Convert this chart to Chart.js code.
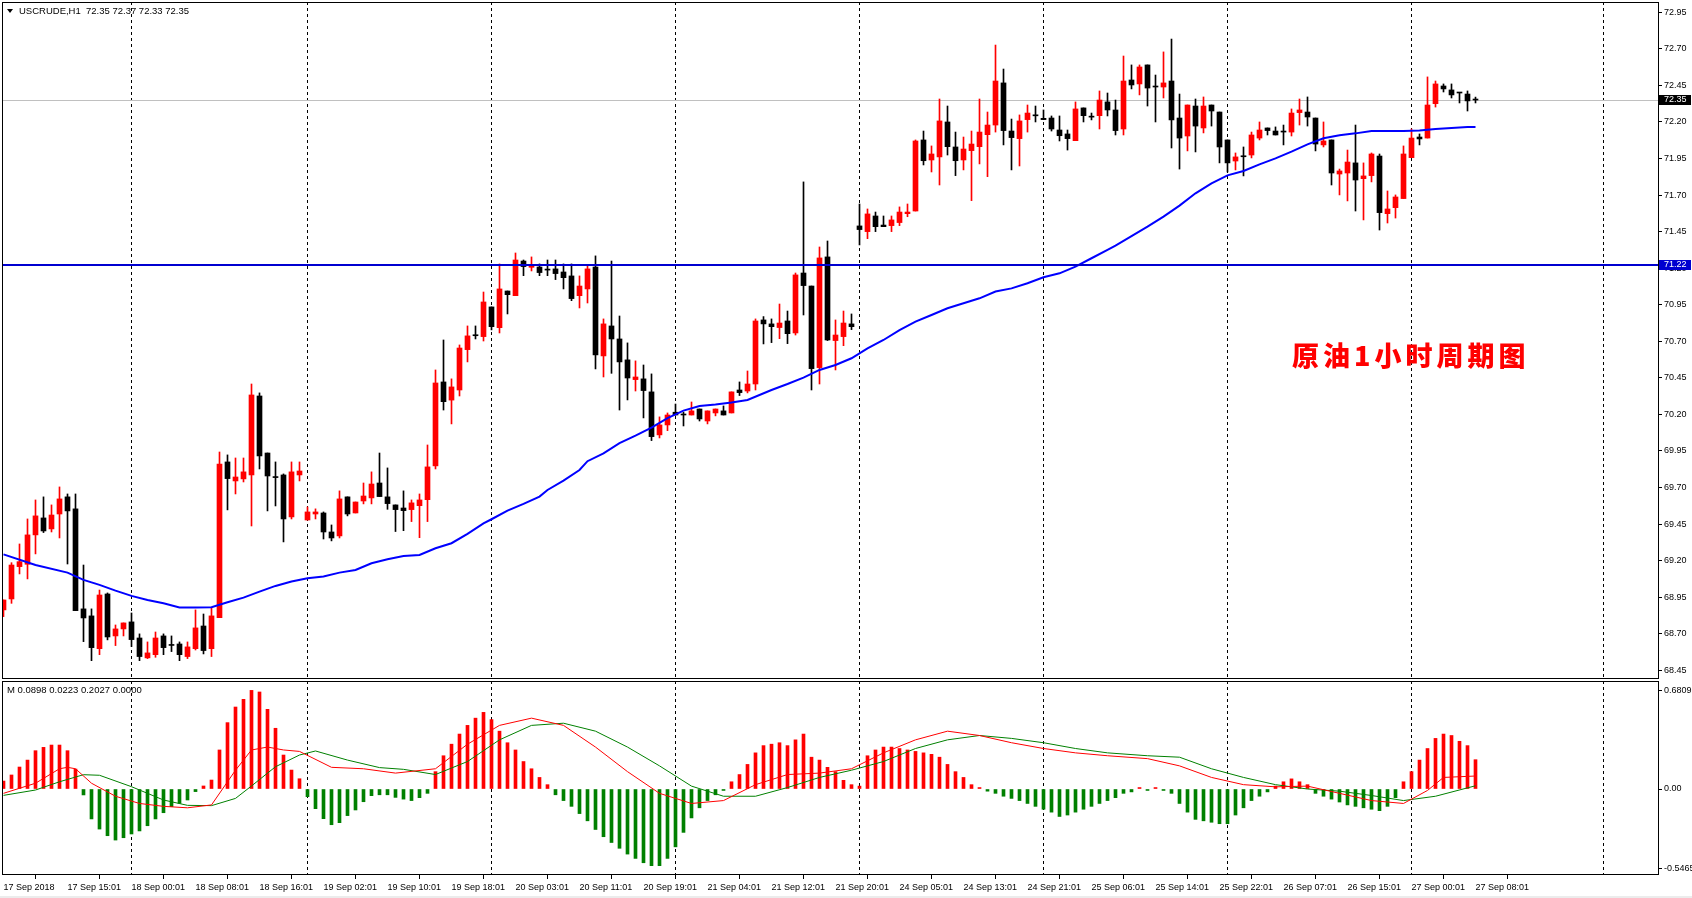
<!DOCTYPE html>
<html><head><meta charset="utf-8">
<script src="https://cdn.jsdelivr.net/npm/chart.js@4.4.0/dist/chart.umd.min.js"></script>
<style>
html,body{margin:0;padding:0;background:#fff;width:1692px;height:898px;overflow:hidden;}
#wrap{position:relative;width:1692px;height:898px;}
#c1{position:absolute;left:0;top:0;}
#c2{position:absolute;left:0;top:680px;}
.lbl{position:absolute;font-family:"Liberation Sans",Arial,sans-serif;font-size:9.5px;line-height:11px;color:#000;white-space:nowrap;}
.tri{display:inline-block;width:0;height:0;border-left:3.5px solid transparent;border-right:3.5px solid transparent;border-top:4px solid #000;margin-right:6px;vertical-align:1px;}
#cn{position:absolute;left:1292px;top:339px;font-family:"Noto Sans CJK SC",sans-serif;font-weight:900;font-size:27px;line-height:32px;letter-spacing:4px;color:#ff0000;white-space:nowrap;}
#foot{position:absolute;left:0;top:896px;width:1692px;height:2px;background:#ececec;}
</style></head>
<body><div id="wrap">
<canvas id="c1" width="1692" height="680"></canvas>
<canvas id="c2" width="1692" height="218"></canvas>
<div class="lbl" style="left:7px;top:5px"><span class="tri"></span>USCRUDE,H1&nbsp; 72.35 72.37 72.33 72.35</div>
<div class="lbl" style="left:7px;top:684px">M 0.0898 0.0223 0.2027 0.0000</div>
<div id="cn">原油1小时周期图</div>
<div id="foot"></div>
</div>
<script>
// ---------- data ----------
const opens = [68.863,68.938,69.159,69.175,69.376,69.492,69.417,69.519,69.636,69.554,
68.870,68.822,68.598,68.972,68.685,68.733,68.781,68.671,68.535,68.557,
68.685,68.623,68.630,68.544,68.598,68.753,68.598,68.810,69.875,69.745,
69.759,69.786,70.326,69.936,69.770,69.786,69.499,69.786,69.478,69.519,
69.526,69.396,69.369,69.636,69.526,69.608,69.629,69.731,69.636,69.581,
69.560,69.549,69.576,69.617,69.848,70.422,70.298,70.367,70.643,70.740,
70.732,70.935,70.793,71.044,71.012,71.249,71.206,71.208,71.189,71.195,
71.174,71.147,71.012,71.058,71.208,70.600,70.805,70.716,70.573,70.438,
70.443,70.354,70.060,70.128,70.215,70.197,70.196,70.237,70.155,70.210,
70.224,70.210,70.367,70.360,70.408,70.846,70.819,70.794,70.839,70.757,
71.167,71.078,70.520,71.277,70.705,70.732,70.819,71.489,71.450,71.557,
71.495,71.491,71.512,71.573,71.591,72.077,71.940,71.961,72.200,72.029,
71.940,72.004,72.031,72.113,72.179,72.467,72.138,72.086,72.216,72.244,
72.225,72.227,72.145,72.118,72.072,72.296,72.235,72.243,72.337,72.282,
72.152,72.487,72.460,72.590,72.440,72.439,72.480,72.227,72.104,72.309,
72.159,72.316,72.268,72.077,71.933,71.964,71.974,72.090,72.159,72.138,
72.132,72.131,72.264,72.268,72.227,72.043,72.077,71.844,71.851,71.920,
71.812,71.833,71.967,71.573,71.614,71.676,71.956,72.097,72.090,72.325,
72.446,72.419,72.399,72.391,72.35];
const highs = [68.931,69.186,69.314,69.485,69.615,69.636,69.581,69.704,69.656,69.656,
69.170,68.870,68.999,68.979,68.760,68.774,68.842,68.699,68.644,68.712,
68.699,68.685,68.644,68.644,68.863,68.835,68.876,69.943,69.923,69.902,
69.902,70.408,70.347,69.936,69.875,69.793,69.875,69.875,69.567,69.554,
69.533,69.444,69.677,69.636,69.601,69.731,69.807,69.936,69.834,69.581,
69.677,69.615,69.656,69.991,70.504,70.709,70.443,70.675,70.805,70.805,
71.037,70.935,71.229,71.044,71.304,71.256,71.277,71.229,71.256,71.256,
71.229,71.229,71.147,71.215,71.284,70.853,71.249,70.873,70.689,70.566,
70.538,70.477,70.183,70.210,70.271,70.215,70.285,70.237,70.224,70.237,
70.258,70.354,70.422,70.497,70.853,70.869,70.853,70.955,70.907,71.167,
71.790,71.078,71.345,71.386,70.846,70.907,70.887,71.639,71.605,71.584,
71.557,71.557,71.619,71.639,72.077,72.138,72.036,72.357,72.309,72.131,
72.097,72.138,72.357,72.268,72.726,72.562,72.220,72.248,72.316,72.309,
72.282,72.241,72.241,72.145,72.337,72.296,72.261,72.412,72.398,72.350,
72.651,72.590,72.590,72.590,72.521,72.679,72.767,72.391,72.316,72.357,
72.371,72.316,72.268,72.077,71.988,72.029,72.131,72.200,72.159,72.166,
72.179,72.289,72.357,72.371,72.227,72.200,72.077,71.878,72.008,72.179,
71.920,71.988,71.981,71.728,71.701,72.036,72.152,72.118,72.508,72.480,
72.460,72.460,72.399,72.412,72.37];
const lows = [68.817,68.908,69.109,69.075,69.246,69.392,69.396,69.355,69.177,68.858,
68.646,68.516,68.557,68.658,68.619,68.685,68.612,68.516,68.530,68.539,
68.557,68.578,68.516,68.530,68.589,68.562,68.544,68.810,69.547,69.656,
69.738,69.437,69.827,69.540,69.574,69.328,69.485,69.745,69.478,69.485,
69.348,69.335,69.355,69.506,69.526,69.588,69.588,69.638,69.551,69.399,
69.405,69.467,69.357,69.467,69.827,70.230,70.135,70.326,70.559,70.716,
70.702,70.778,70.757,70.887,71.012,71.149,71.181,71.149,71.149,71.122,
71.058,70.978,70.928,70.962,70.511,70.456,70.481,70.230,70.299,70.360,
70.176,70.021,70.039,70.089,70.196,70.121,70.196,70.155,70.135,70.190,
70.196,70.210,70.329,70.347,70.367,70.682,70.691,70.718,70.684,70.743,
70.880,70.367,70.408,70.705,70.504,70.670,70.780,71.359,71.402,71.450,
71.484,71.450,71.491,71.552,71.591,71.906,71.858,71.769,71.974,71.833,
71.872,71.662,71.913,71.826,72.131,72.043,71.872,71.899,72.131,72.200,
72.216,72.138,72.070,72.008,72.072,72.200,72.214,72.152,72.241,72.111,
72.111,72.426,72.385,72.309,72.200,72.364,72.022,71.878,72.002,71.995,
72.125,72.172,71.920,71.858,71.872,71.831,71.954,72.077,72.111,72.111,
72.043,72.104,72.179,72.172,72.002,72.029,71.769,71.701,71.660,71.591,
71.530,71.790,71.461,71.509,71.543,71.676,71.956,72.043,72.090,72.302,
72.405,72.364,72.330,72.275,72.33];
const closes = [68.931,69.170,69.193,69.376,69.506,69.403,69.512,69.622,69.540,68.858,
68.808,68.605,68.965,68.678,68.733,68.774,68.660,68.544,68.569,68.671,
68.605,68.620,68.557,68.610,68.740,68.585,68.822,69.861,69.761,69.772,
69.807,70.333,69.916,69.779,69.768,69.485,69.807,69.813,69.533,69.533,
69.396,69.355,69.622,69.519,69.601,69.642,69.724,69.638,69.590,69.549,
69.542,69.595,69.615,69.841,70.415,70.287,70.388,70.654,70.737,70.738,
70.969,70.800,71.058,71.019,71.256,71.211,71.215,71.170,71.187,71.163,
71.135,70.992,71.078,71.195,70.607,70.819,70.716,70.559,70.449,70.456,
70.363,70.048,70.128,70.196,70.196,70.196,70.224,70.169,70.224,70.237,
70.196,70.354,70.349,70.408,70.839,70.819,70.800,70.825,70.752,71.154,
71.081,70.513,71.270,70.709,70.743,70.825,70.800,71.464,71.571,71.484,
71.484,71.530,71.584,71.584,72.070,71.935,71.981,72.207,72.031,71.935,
72.015,72.049,72.131,72.179,72.480,72.141,72.093,72.207,72.261,72.242,
72.216,72.152,72.106,72.086,72.289,72.243,72.233,72.350,72.282,72.141,
72.480,72.453,72.576,72.432,72.439,72.467,72.214,72.090,72.316,72.172,
72.309,72.275,72.029,71.920,71.961,71.962,72.111,72.145,72.141,72.111,
72.131,72.261,72.282,72.234,72.049,72.070,71.851,71.865,71.926,71.803,
71.831,71.981,71.580,71.605,71.687,71.981,72.090,72.084,72.316,72.460,
72.426,72.385,72.398,72.344,72.35];

const maBars = [0,4,8,10,12,14,16,18,20,22,24,26,28,30,32,34,36,38,40,42,44,46,48,50,52,54,56,58,60,61,63,65,67,68,70,72,73,75,77,79,81,83,85,87,89,91,93,96,98,100,102,104,106,108,110,112,114,116,118,120,122,124,126,128,130,132,134,136,138,139,141,143,145,147,149,151,153,155,157,159,161,163,165,167,169,171,173,175,177,179,181,183,184];
const maValues = [69.243,69.170,69.118,69.068,69.034,68.995,68.959,68.931,68.908,68.879,68.879,68.881,68.915,68.947,68.988,69.027,69.057,69.079,69.091,69.118,69.136,69.182,69.209,69.232,69.239,69.285,69.319,69.383,69.455,69.483,69.542,69.588,69.638,69.683,69.747,69.820,69.880,69.934,70.003,70.055,70.110,70.174,70.226,70.258,70.267,70.281,70.299,70.367,70.408,70.452,70.504,70.538,70.584,70.652,70.709,70.777,70.834,70.880,70.926,70.960,70.994,71.040,71.062,71.097,71.138,71.165,71.211,71.268,71.325,71.355,71.420,71.484,71.553,71.628,71.712,71.780,71.835,71.865,71.910,71.951,71.997,72.047,72.088,72.109,72.122,72.138,72.138,72.138,72.141,72.152,72.159,72.166,72.166];

const levelLine = 71.22;      // horizontal line
const lastPrice = 72.35;      // bid line
const daySeparators = [16,38,61,84,107,130,153,176,200];

// MACD panel
const macdHist = [0.055,0.097,0.152,0.200,0.265,0.288,0.304,0.304,0.265,0.138,
-0.041,-0.207,-0.277,-0.323,-0.353,-0.337,-0.311,-0.290,-0.254,-0.207,
-0.164,-0.122,-0.099,-0.076,-0.018,0.021,0.062,0.270,0.459,0.567,
0.620,0.682,0.671,0.551,0.420,0.235,0.131,0.071,-0.053,-0.136,
-0.205,-0.247,-0.233,-0.184,-0.145,-0.088,-0.046,-0.040,-0.040,-0.058,
-0.07,-0.08,-0.06,-0.03,
0.12,0.23,0.31,0.38,0.44,0.49,0.53,0.48,0.40,0.32,0.27,0.19,0.14,0.08,0.03,
-0.04,-0.08,-0.12,-0.17,-0.22,-0.28,-0.33,-0.37,-0.41,-0.45,-0.48,-0.51,-0.53,-0.53,-0.48,-0.40,-0.30,-0.20,-0.13,-0.08,-0.04,
-0.01,
0.05,0.10,0.17,0.25,0.30,0.31,0.32,0.30,0.34,0.38,
0.22,0.20,0.15,0.12,0.06,0.03,0.02,
0.23,0.27,0.29,0.29,0.28,0.27,0.26,0.25,0.24,0.22,0.17,0.12,0.08,
0.03,0.01,
-0.015,-0.03,-0.05,-0.065,-0.08,-0.10,-0.12,-0.14,-0.16,-0.19,-0.18,-0.16,-0.14,-0.12,-0.10,-0.08,-0.06,-0.03,-0.02,
0.01,-0.01,0.01,-0.01,-0.03,
-0.10,-0.16,-0.21,-0.22,-0.23,-0.24,-0.24,-0.18,-0.13,-0.08,-0.05,-0.02,
0.02,0.05,0.07,0.05,0.03,
-0.03,-0.05,-0.07,-0.09,-0.11,-0.12,-0.13,-0.14,-0.15,-0.12,-0.06,
0.05,0.12,0.20,0.28,0.35,0.38,0.37,0.33,0.30,0.2027];
const macdBars = [0,4,7,8,9,11,14,17,20,23,26,28,29,31,33,35,37,41,45,49,54,58,62,66,70,74,78,82,86,90,94,98,102,106,110,114,118,122,126,130,134,138,143,147,151,155,159,163,167,171,175,178,180,184];
const macdValues = [-0.03,0.04,0.14,0.15,0.14,0.04,-0.05,-0.10,-0.12,-0.13,-0.11,0.05,0.13,0.27,0.29,0.27,0.26,0.15,0.14,0.11,0.14,0.31,0.44,0.49,0.44,0.29,0.12,-0.03,-0.10,-0.08,0.03,0.10,0.11,0.14,0.25,0.34,0.40,0.37,0.32,0.28,0.25,0.23,0.21,0.16,0.08,0.03,0.015,0.02,-0.03,-0.08,-0.10,-0.01,0.08,0.0898];
const signalBars = [0,4,7,10,12,16,20,23,26,29,31,34,37,39,43,47,50,54,58,62,66,70,74,78,82,86,90,94,98,102,106,110,114,118,122,126,130,134,138,143,147,151,155,159,163,167,171,175,179,184];
const signalValues = [-0.044,-0.007,0.05,0.099,0.095,0.016,-0.076,-0.113,-0.115,-0.065,0.021,0.154,0.235,0.263,0.20,0.148,0.136,0.10,0.19,0.34,0.44,0.455,0.40,0.29,0.16,0.02,-0.05,-0.05,0.01,0.08,0.13,0.19,0.28,0.34,0.37,0.35,0.32,0.28,0.25,0.23,0.22,0.14,0.08,0.03,0.0,-0.015,-0.045,-0.08,-0.05,0.0223];
const macdTicks = [-0.5465, 0, 0.6809];
const macdTickLabels = ['-0.5465', '0.00', '0.6809'];

const xTickBars = [0,8,16,24,32,40,48,56,64,72,80,88,96,104,112,120,128,136,144,152,160,168,176,184];
const xTickLabels = ['17 Sep 2018','17 Sep 15:01','18 Sep 00:01','18 Sep 08:01','18 Sep 16:01','19 Sep 02:01','19 Sep 10:01','19 Sep 18:01','20 Sep 03:01','20 Sep 11:01','20 Sep 19:01','21 Sep 04:01','21 Sep 12:01','21 Sep 20:01','24 Sep 05:01','24 Sep 13:01','24 Sep 21:01','25 Sep 06:01','25 Sep 14:01','25 Sep 22:01','26 Sep 07:01','26 Sep 15:01','27 Sep 00:01','27 Sep 08:01'];
const priceTicks = [68.45,68.70,68.95,69.20,69.45,69.70,69.95,70.20,70.45,70.70,70.95,71.20,71.45,71.70,71.95,72.20,72.45,72.70,72.95];

// ---------- styles ----------
const RED = '#ff0000', BLACK = '#000000', GREEN = '#008000', BLUE = '#0000ff';
const FONT = {family: '"Liberation Sans", Arial, sans-serif', size: 9};
const X_MIN = -0.1875, X_MAX = 206.8125;

const idx = opens.map((_, i) => i);
const candleColors = idx.map(i => closes[i] > opens[i] ? RED : BLACK);

const framePlugin = {
  id: 'frame',
  afterDraw(chart) {
    const a = chart.chartArea, ctx = chart.ctx;
    ctx.save();
    ctx.strokeStyle = '#000'; ctx.lineWidth = 1;
    ctx.strokeRect(Math.round(a.left) + 0.5, Math.round(a.top) + 0.5, Math.round(a.right - a.left), Math.round(a.bottom - a.top) - 1);
    ctx.restore();
  }
};
const sepPlugin = {
  id: 'seps',
  beforeDatasetsDraw(chart) {
    const a = chart.chartArea, ctx = chart.ctx, xs = chart.scales.x;
    ctx.save();
    ctx.strokeStyle = '#000'; ctx.lineWidth = 1; ctx.setLineDash([3, 3]);
    daySeparators.forEach(b => {
      const px = Math.floor(xs.getPixelForValue(b)) + 0.5;
      if (px < a.left || px > a.right) return;
      ctx.beginPath(); ctx.moveTo(px, a.top); ctx.lineTo(px, a.bottom); ctx.stroke();
    });
    ctx.restore();
  }
};
const priceLinePlugin = {
  id: 'priceLines',
  beforeDatasetsDraw(chart) {
    const a = chart.chartArea, ctx = chart.ctx, ys = chart.scales.y;
    const y = Math.round(ys.getPixelForValue(lastPrice)) + 0.5;
    ctx.save(); ctx.strokeStyle = '#c0c0c0'; ctx.lineWidth = 1;
    ctx.beginPath(); ctx.moveTo(a.left, y); ctx.lineTo(a.right, y); ctx.stroke();
    ctx.restore();
  },
  afterDatasetsDraw(chart) {
    const a = chart.chartArea, ctx = chart.ctx, ys = chart.scales.y;
    const y = Math.round(ys.getPixelForValue(levelLine));
    ctx.save(); ctx.strokeStyle = '#0000d0'; ctx.lineWidth = 2;
    ctx.beginPath(); ctx.moveTo(a.left, y); ctx.lineTo(a.right, y); ctx.stroke();
    ctx.restore();
  },
  afterDraw(chart) {
    const a = chart.chartArea, ctx = chart.ctx, ys = chart.scales.y;
    const tag = (v, bg) => {
      const y = Math.round(ys.getPixelForValue(v));
      ctx.fillStyle = bg;
      ctx.fillRect(a.right + 1, y - 5, 32, 10);
      ctx.fillStyle = '#fff';
      ctx.font = '9px "Liberation Sans", Arial, sans-serif';
      ctx.textBaseline = 'middle'; ctx.textAlign = 'left';
      ctx.fillText(v.toFixed(2), a.right + 6, y);
    };
    ctx.save();
    tag(lastPrice, '#000');
    tag(levelLine, '#0000d0');
    ctx.restore();
  }
};

const yAxisCommon = {
  position: 'right',
  afterFit: s => { s.width = 34; s.paddingTop = 0; s.paddingBottom = 0; },
  grid: {display: true, drawOnChartArea: false, drawTicks: true, tickLength: 4, color: '#000'},
  border: {display: false},
};

new Chart(document.getElementById('c1'), {
  type: 'bar',
  data: {
    datasets: [
      {type: 'line', data: maBars.map((b, i) => ({x: b, y: maValues[i]})), borderColor: BLUE, borderWidth: 2, pointRadius: 0, tension: 0, order: 0},
      {data: idx.map(i => ({x: i, y: [opens[i], closes[i]]})), backgroundColor: candleColors, barThickness: 5, minBarLength: 1, grouped: false, borderWidth: 0, order: 1},
      {data: idx.map(i => ({x: i, y: [lows[i], highs[i]]})), backgroundColor: candleColors, barThickness: 1, minBarLength: 1, grouped: false, borderWidth: 0, order: 2}
    ]
  },
  options: {
    responsive: false, animation: false, events: [],
    layout: {padding: {left: 2, top: 2, right: 0, bottom: 1}},
    plugins: {legend: {display: false}, tooltip: {enabled: false}, title: {display: false}},
    scales: {
      x: {type: 'linear', min: X_MIN, max: X_MAX, display: false, offset: false},
      y: Object.assign({}, yAxisCommon, {
        type: 'linear', min: 68.3905, max: 73.0204,
        afterBuildTicks: s => { s.ticks = priceTicks.map(v => ({value: v})); },
        ticks: {font: FONT, color: '#000', padding: 2, callback: v => Number(v).toFixed(2)}
      })
    }
  },
  plugins: [sepPlugin, priceLinePlugin, framePlugin]
});

new Chart(document.getElementById('c2'), {
  type: 'bar',
  data: {
    datasets: [
      {type: 'line', data: macdBars.map((b, i) => ({x: b, y: macdValues[i]})), borderColor: RED, borderWidth: 1, pointRadius: 0, tension: 0, order: 0},
      {type: 'line', data: signalBars.map((b, i) => ({x: b, y: signalValues[i]})), borderColor: GREEN, borderWidth: 1, pointRadius: 0, tension: 0, order: 1},
      {data: macdHist.map((v, i) => ({x: i, y: v})), backgroundColor: macdHist.map(v => v >= 0 ? RED : GREEN), barThickness: 3, grouped: false, borderWidth: 0, order: 2}
    ]
  },
  options: {
    responsive: false, animation: false, events: [],
    layout: {padding: {left: 2, top: 1, right: 0, bottom: 0}},
    plugins: {legend: {display: false}, tooltip: {enabled: false}},
    scales: {
      x: {
        type: 'linear', min: X_MIN, max: X_MAX, offset: false, position: 'bottom',
        afterFit: s => { s.height = 23; s.paddingLeft = 0; s.paddingRight = 0; },
        afterBuildTicks: s => { s.ticks = xTickBars.map(v => ({value: v})); },
        ticks: {font: FONT, color: '#000', padding: 3, align: 'start', maxRotation: 0, minRotation: 0, autoSkip: false,
          callback: (v, i) => xTickLabels[i]},
        grid: {display: true, drawOnChartArea: false, drawTicks: true, tickLength: 4, color: '#000'},
        border: {display: false}
      },
      y: Object.assign({}, yAxisCommon, {
        type: 'linear', min: -0.5947, max: 0.7469,
        afterBuildTicks: s => { s.ticks = macdTicks.map(v => ({value: v})); },
        ticks: {font: FONT, color: '#000', padding: 2, callback: (v, i) => macdTickLabels[i]}
      })
    }
  },
  plugins: [sepPlugin, framePlugin]
});
</script>
</body></html>
